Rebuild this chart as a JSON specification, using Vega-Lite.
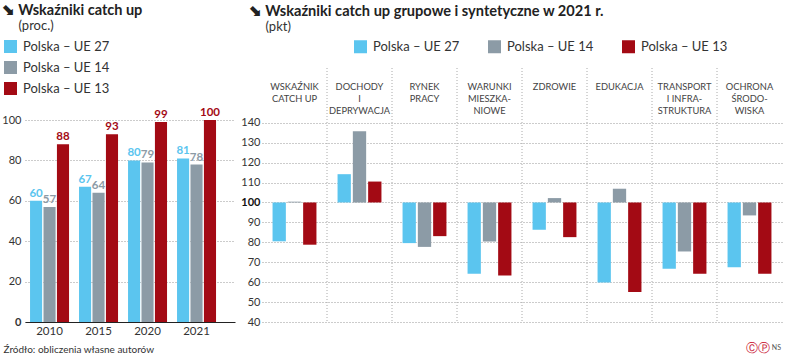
{
  "$schema": "https://vega.github.io/schema/vega-lite/v6.json",
  "padding": {"left": 1, "top": 2, "right": 5, "bottom": 2},
  "background": "white",
  "config": {
    "view": {"stroke": null},
    "font": "Lato",
    "axis": {"labelFont": "Lato", "titleFont": "Lato", "labelColor": "#333", "ticks": false, "labelOverlap": false},
    "axisY": {"labelOverlap": false},
    "legend": {"labelFont": "Lato"},
    "title": {"font": "Lato", "subtitleFont": "Lato"}
  },
  "spacing": 5,
  "resolve": {
    "scale": {"color": "independent", "x": "independent", "y": "independent", "xOffset": "independent"},
    "legend": {"color": "independent"}
  },
  "hconcat": [
    {
      "width": 210,
      "height": 254,
      "title": {
        "text": "⬊ Wskaźniki catch up",
        "subtitle": "\u200b\u00a0\u00a0\u00a0\u00a0\u00a0(proc.)",
        "anchor": "start",
        "frame": "bounds",
        "fontSize": 14.5,
        "fontWeight": "bold",
        "color": "#222",
        "subtitleFontSize": 13,
        "subtitleColor": "#333",
        "subtitlePadding": 2,
        "offset": 6
      },
      "data": {
        "values": [
          {"year": "2010", "series": "Polska – UE 27", "value": 60},
          {"year": "2010", "series": "Polska – UE 14", "value": 57},
          {"year": "2010", "series": "Polska – UE 13", "value": 88},
          {"year": "2015", "series": "Polska – UE 27", "value": 67},
          {"year": "2015", "series": "Polska – UE 14", "value": 64},
          {"year": "2015", "series": "Polska – UE 13", "value": 93},
          {"year": "2020", "series": "Polska – UE 27", "value": 80},
          {"year": "2020", "series": "Polska – UE 14", "value": 79},
          {"year": "2020", "series": "Polska – UE 13", "value": 99},
          {"year": "2021", "series": "Polska – UE 27", "value": 81},
          {"year": "2021", "series": "Polska – UE 14", "value": 78},
          {"year": "2021", "series": "Polska – UE 13", "value": 100}
        ]
      },
      "encoding": {
        "x": {
          "field": "year", "type": "nominal",
          "scale": {"paddingInner": 0.204, "paddingOuter": 0.245, "align": 0.21},
          "axis": {
            "labelAngle": 0, "labelFontSize": 11.5, "labelPadding": 3,
            "domainColor": "#222", "domainWidth": 1.2,
            "title": "Źródło: obliczenia własne autorów",
            "titleFontSize": 10, "titleFontWeight": "normal", "titleColor": "#333",
            "titleAlign": "left", "titleX": -22, "titleY": 27, "titleBaseline": "middle"
          }
        },
        "xOffset": {
          "field": "series", "type": "nominal",
          "sort": ["Polska – UE 27", "Polska – UE 14", "Polska – UE 13"],
          "scale": {"paddingInner": 0.1}
        },
        "y": {
          "field": "value", "type": "quantitative",
          "scale": {"domain": [0, 125.8], "nice": false, "zero": true},
          "axis": {
            "values": [0, 20, 40, 60, 80, 100],
            "title": null, "domain": false, "labelOverlap": false,
            "labelFontSize": 11, "labelPadding": 4,
            "labelFontWeight": {"expr": "datum.value == 0 ? 'bold' : 'normal'"},
            "gridColor": "#999", "gridDash": [1, 2], "gridWidth": 1
          }
        },
        "color": {
          "field": "series", "type": "nominal",
          "sort": ["Polska – UE 27", "Polska – UE 14", "Polska – UE 13"],
          "scale": {"domain": ["Polska – UE 27", "Polska – UE 14", "Polska – UE 13"], "range": ["#5bc5ef", "#8c9ba6", "#a30a14"]},
          "legend": {
            "orient": "none", "legendX": -21, "legendY": -28, "direction": "vertical",
            "title": null, "symbolType": "square", "symbolSize": 169, "symbolStrokeWidth": 0,
            "labelFontSize": 13, "labelColor": "#333", "labelOffset": 6, "rowPadding": 7
          }
        }
      },
      "layer": [
        {"mark": {"type": "bar"}},
        {
          "mark": {"type": "text", "baseline": "bottom", "dy": -2, "fontSize": 11.5, "fontWeight": "bold"},
          "encoding": {"text": {"field": "value", "type": "quantitative"}}
        }
      ]
    },
    {
      "width": 520,
      "height": 254,
      "title": {
        "text": "⬊ Wskaźniki catch up grupowe i syntetyczne w 2021 r.",
        "subtitle": "\u200b\u00a0\u00a0\u00a0\u00a0\u00a0(pkt)",
        "anchor": "start",
        "frame": "bounds",
        "dx": 8,
        "fontSize": 14.6,
        "fontWeight": "bold",
        "color": "#222",
        "subtitleFontSize": 13,
        "subtitleColor": "#333",
        "subtitlePadding": 2,
        "offset": 6
      },
      "encoding": {
        "y": {
          "type": "quantitative",
          "scale": {"domain": [40, 167.5], "nice": false, "zero": false},
          "axis": {
            "values": [40, 50, 60, 70, 80, 90, 100, 110, 120, 130, 140],
            "title": null, "domain": false, "labelOverlap": false,
            "labelFontSize": 11, "labelPadding": 2,
            "labelFontWeight": {"expr": "datum.value == 100 ? 'bold' : 'normal'"},
            "labelColor": {"expr": "datum.value == 100 ? '#111' : '#333'"},
            "gridColor": "#999", "gridDash": [1, 2], "gridWidth": 1
          }
        }
      },
      "layer": [
        {
          "data": {"values": [{"cat": "c2"}, {"cat": "c3"}, {"cat": "c4"}, {"cat": "c5"}, {"cat": "c6"}, {"cat": "c7"}, {"cat": "c8"}]},
          "mark": {"type": "rule", "color": "#aaa", "strokeDash": [1, 2], "strokeWidth": 1},
          "encoding": {
            "y": null,
            "x": {"field": "cat", "type": "nominal", "bandPosition": 0,
                  "scale": {"domain": ["c1", "c2", "c3", "c4", "c5", "c6", "c7", "c8"], "paddingInner": 0, "paddingOuter": 0},
                  "axis": null}
          }
        },
        {
          "data": {
            "values": [
              {"cat": "c1", "series": "Polska – UE 27", "value": 80.5},
              {"cat": "c1", "series": "Polska – UE 14", "value": 100.4},
              {"cat": "c1", "series": "Polska – UE 13", "value": 78.8},
              {"cat": "c2", "series": "Polska – UE 27", "value": 114.2},
              {"cat": "c2", "series": "Polska – UE 14", "value": 135.7},
              {"cat": "c2", "series": "Polska – UE 13", "value": 110.5},
              {"cat": "c3", "series": "Polska – UE 27", "value": 79.6},
              {"cat": "c3", "series": "Polska – UE 14", "value": 77.7},
              {"cat": "c3", "series": "Polska – UE 13", "value": 83.1},
              {"cat": "c4", "series": "Polska – UE 27", "value": 64.2},
              {"cat": "c4", "series": "Polska – UE 14", "value": 80.4},
              {"cat": "c4", "series": "Polska – UE 13", "value": 63.3},
              {"cat": "c5", "series": "Polska – UE 27", "value": 86.3},
              {"cat": "c5", "series": "Polska – UE 14", "value": 102.2},
              {"cat": "c5", "series": "Polska – UE 13", "value": 82.6},
              {"cat": "c6", "series": "Polska – UE 27", "value": 59.8},
              {"cat": "c6", "series": "Polska – UE 14", "value": 106.9},
              {"cat": "c6", "series": "Polska – UE 13", "value": 55.1},
              {"cat": "c7", "series": "Polska – UE 27", "value": 66.7},
              {"cat": "c7", "series": "Polska – UE 14", "value": 75.4},
              {"cat": "c7", "series": "Polska – UE 13", "value": 64.2},
              {"cat": "c8", "series": "Polska – UE 27", "value": 67.5},
              {"cat": "c8", "series": "Polska – UE 14", "value": 93.5},
              {"cat": "c8", "series": "Polska – UE 13", "value": 64.2}
            ]
          },
          "mark": {"type": "bar"},
          "encoding": {
            "x": {"field": "cat", "type": "nominal"},
            "xOffset": {
              "field": "series", "type": "nominal",
              "sort": ["Polska – UE 27", "Polska – UE 14", "Polska – UE 13"],
              "scale": {"paddingInner": 0.13, "paddingOuter": 0.69}
            },
            "y": {"field": "value", "type": "quantitative"},
            "y2": {"datum": 100},
            "color": {
              "field": "series", "type": "nominal",
              "sort": ["Polska – UE 27", "Polska – UE 14", "Polska – UE 13"],
              "scale": {"domain": ["Polska – UE 27", "Polska – UE 14", "Polska – UE 13"], "range": ["#5bc5ef", "#8c9ba6", "#a30a14"]},
              "legend": {
                "orient": "none", "legendX": 92, "legendY": -28, "direction": "horizontal",
                "title": null, "symbolType": "square", "symbolSize": 169, "symbolStrokeWidth": 0,
                "labelFontSize": 13, "labelColor": "#333", "labelOffset": 6, "columnPadding": 28
              }
            }
          }
        },
        {
          "mark": {"type": "rule", "color": "#555", "strokeWidth": 1.5},
          "encoding": {"y": {"datum": 100, "type": "quantitative"}}
        },
        {
          "data": {
            "values": [
              {"cat": "c1", "lines": ["WSKAŹNIK", "CATCH UP"]},
              {"cat": "c2", "lines": ["DOCHODY", "I", "DEPRYWACJA"]},
              {"cat": "c3", "lines": ["RYNEK", "PRACY"]},
              {"cat": "c4", "lines": ["WARUNKI", "MIESZKA-", "NIOWE"]},
              {"cat": "c5", "lines": ["ZDROWIE"]},
              {"cat": "c6", "lines": ["EDUKACJA"]},
              {"cat": "c7", "lines": ["TRANSPORT", "I INFRA-", "STRUKTURA"]},
              {"cat": "c8", "lines": ["OCHRONA", "ŚRODO-", "WISKA"]}
            ]
          },
          "mark": {"type": "text", "baseline": "top", "align": "center", "fontSize": 9.3, "lineHeight": 12, "color": "#444", "letterSpacing": 0.6},
          "encoding": {
            "x": {"field": "cat", "type": "nominal"},
            "y": {"datum": 160, "type": "quantitative"},
            "text": {"field": "lines"}
          }
        },
        {
          "data": {"values": [{"cat": "c8", "pos": 27, "icon": "ⒸⓅ", "ns": "NS"}]},
          "layer": [
            {
              "mark": {"type": "text", "align": "right", "baseline": "middle", "fontSize": 12, "color": "#c8102e", "dx": -12, "clip": false},
              "encoding": {
                "x": {"field": "cat", "type": "nominal", "bandPosition": 1},
                "y": {"field": "pos", "type": "quantitative"},
                "text": {"field": "icon"}
              }
            },
            {
              "mark": {"type": "text", "align": "right", "baseline": "middle", "fontSize": 7, "color": "#555", "dx": -1, "clip": false},
              "encoding": {
                "x": {"field": "cat", "type": "nominal", "bandPosition": 1},
                "y": {"field": "pos", "type": "quantitative"},
                "text": {"field": "ns"}
              }
            }
          ]
        }
      ]
    }
  ]
}
